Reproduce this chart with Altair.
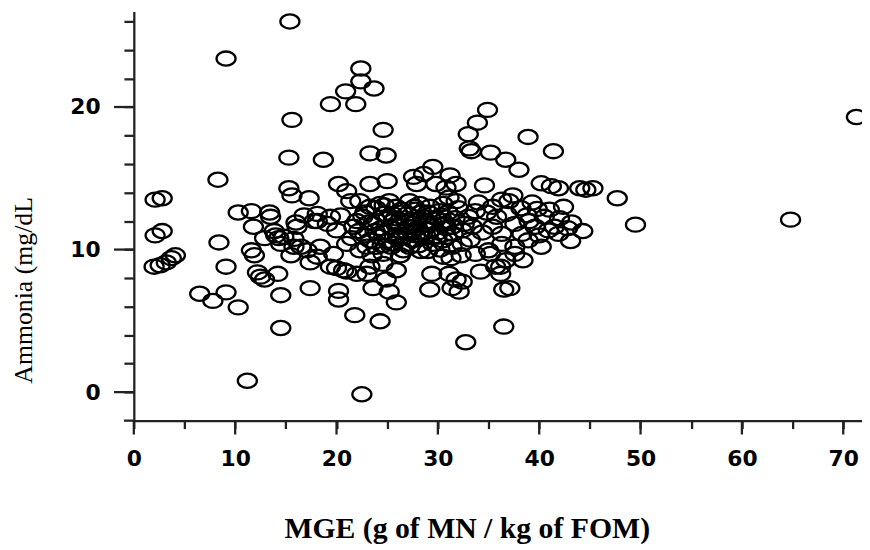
import altair as alt
import pandas as pd

# MGE (g of MN / kg of FOM) and ammonia (mg/dL)
mge = [
    15.4, 9.1, 22.4, 22.4, 23.7, 20.9, 19.4, 21.9, 15.6, 24.6,
    34.9, 33.9, 33.0, 33.1, 33.3, 35.2, 36.7, 38.0, 38.9, 41.4,
    71.3, 15.3, 18.7, 23.3, 24.9, 8.3,
    2.1, 2.8, 2.1, 2.8, 2.0, 2.6, 3.2, 3.7, 4.1, 8.4,
    9.1, 6.5, 7.8, 9.1, 10.3, 11.2, 10.3, 11.6, 13.4, 13.5,
    11.8, 12.9, 14.0, 14.3, 11.6, 11.9, 12.2, 12.5, 12.9, 14.2,
    14.5, 14.5, 22.5, 15.3, 15.6, 17.3, 20.2, 21.0, 21.4, 23.3,
    25.0, 27.6, 28.6, 29.5, 31.2, 31.8, 34.6, 27.9, 29.8, 30.8,
    40.2, 41.2, 41.9, 44.0, 44.6, 45.3, 37.4, 36.3, 42.4, 39.8,
    38.8, 43.2, 43.1, 44.3, 47.7, 49.5, 64.8, 41.5, 36.5, 32.75,
    36.5, 37.1, 32.1, 31.4, 31.8, 32.4, 29.2, 29.4, 34.2, 36.2,
    36.2, 38.4, 35.2, 37.6, 30.5, 31.3, 32.3, 17.4, 20.2, 20.2,
    21.8, 24.3, 23.6, 25.2, 25.9, 24.9, 15.5, 17.4, 20.0, 21.0,
    22.0, 23.0, 16.0, 18.1, 19.4, 20.4, 22.3, 23.3, 24.3, 25.2,
    25.9, 27.2, 28.2, 29.2, 30.5, 31.1, 31.8, 33.7, 35.4, 37.0,
    14.8, 16.1, 17.8, 19.1, 20.0, 21.7, 22.6, 23.6, 24.6, 25.6,
    26.2, 27.5, 28.5, 29.5, 30.5, 31.4, 32.4, 33.4, 34.4, 35.4,
    36.3, 37.6, 38.3, 39.6, 40.9, 41.9, 14.5, 15.8, 17.1, 18.4,
    19.7, 21.0, 22.3, 23.3, 23.9, 24.6, 25.6, 26.6, 27.5, 28.5,
    29.5, 30.5, 31.4, 32.4, 33.7, 35.0, 36.3, 37.6, 38.9, 40.2,
    19.4, 20.7, 23.3, 24.6, 25.9, 31.1, 35.7, 36.7, 15.8, 16.5,
    18.1, 16.8, 18.1, 13.85,
    22.8, 23.8, 24.2, 24.8, 25.3, 25.0, 26.0, 26.8, 27.0, 27.8,
    28.0, 28.8, 29.0, 29.8, 30.0, 30.8, 31.0, 22.0, 22.8, 23.0,
    24.0, 25.5, 26.5, 27.2, 28.3, 29.0, 30.2, 26.2, 24.5, 23.5,
    21.5, 22.2, 25.8, 28.9, 27.8, 26.8,
    39.0, 40.5, 41.0, 42.0, 38.2, 40.0, 42.8, 39.3, 36.8, 35.8,
    34.8, 33.0, 34.0,
    23.2, 24.4, 25.1, 25.7, 26.4, 27.1, 27.9, 28.6, 29.3, 30.1,
    30.9, 31.7, 32.6, 23.9, 25.4, 26.9, 28.4, 29.9, 31.5, 24.7,
    26.3, 27.7, 29.1, 30.6, 32.0, 33.2, 25.9, 28.1, 30.3, 27.4,
]
ammonia = [
    26.0, 23.4, 22.7, 21.8, 21.3, 21.1, 20.2, 20.2, 19.1, 18.4,
    19.8, 18.9, 18.1, 17.1, 16.9, 16.8, 16.3, 15.6, 17.9, 16.9,
    19.3, 16.45, 16.3, 16.75, 16.6, 14.9,
    13.5, 13.6, 11.0, 11.3, 8.8, 8.9, 9.1, 9.4, 9.6, 10.5,
    8.8, 6.9, 6.4, 7.0, 5.95, 0.8, 12.6, 12.7, 12.6, 12.3,
    11.6, 10.8, 11.0, 10.8, 9.95, 9.6, 8.4, 8.1, 7.9, 8.3,
    6.8, 4.5, -0.15, 14.3, 13.8, 13.6, 14.6, 14.1, 13.4, 14.6,
    14.8, 15.1, 15.3, 15.8, 15.2, 14.6, 14.5, 14.6, 14.6, 14.35,
    14.65, 14.45, 14.3, 14.3, 14.2, 14.3, 13.8, 13.5, 13.0, 12.85,
    12.4, 11.9, 10.6, 11.3, 13.6, 11.75, 12.1, 11.6, 4.6, 3.5,
    7.2, 7.3, 7.05, 7.3, 7.9, 7.75, 7.2, 8.3, 8.45, 8.8,
    8.3, 9.25, 9.7, 9.7, 9.5, 9.4, 9.6, 7.3, 7.1, 6.5,
    5.4, 4.97, 7.3, 7.05, 6.3, 7.9, 9.6, 9.1, 8.7, 8.45,
    8.3, 8.3, 11.9, 12.5, 12.3, 12.4, 13.4, 13.0, 13.2, 13.4,
    13.0, 13.4, 13.2, 13.0, 13.2, 13.65, 13.4, 12.7, 13.0, 13.4,
    10.9, 11.6, 12.0, 11.8, 11.35, 11.6, 12.3, 11.8, 12.5, 12.0,
    11.6, 11.8, 12.3, 11.8, 12.0, 11.6, 11.35, 11.6, 11.2, 11.6,
    11.1, 11.8, 11.1, 11.6, 11.35, 11.1, 10.4, 10.2, 9.95, 10.2,
    9.7, 10.4, 9.95, 10.65, 10.2, 9.7, 10.4, 9.95, 10.65, 11.1,
    10.4, 10.65, 10.2, 10.4, 9.7, 9.95, 10.4, 10.2, 10.65, 10.2,
    8.8, 8.55, 8.8, 9.0, 8.55, 8.3, 8.8, 9.25, 10.75, 10.2,
    9.5, 12.4, 12.0, 11.3,
    11.0, 11.3, 10.9, 11.2, 11.6, 10.6, 11.0, 11.3, 12.5, 12.8,
    11.5, 11.0, 12.6, 12.2, 11.2, 11.5, 12.6, 12.0, 12.6, 10.2,
    12.0, 12.5, 12.6, 10.2, 9.9, 9.9, 10.0, 10.8, 10.3, 9.6,
    10.8, 11.3, 12.2, 12.0, 11.0, 12.0,
    12.0, 12.3, 12.8, 12.2, 12.9, 11.0, 11.5, 13.3, 12.5, 12.3,
    12.6, 12.3, 13.3,
    11.9, 11.5, 12.3, 10.9, 12.8, 11.6, 12.1, 10.8, 11.4, 12.7,
    10.9, 12.2, 11.8, 12.9, 10.2, 10.4, 12.6, 10.9, 11.1, 13.1,
    9.6, 13.0, 11.9, 11.8, 12.9, 10.7, 11.7, 10.3, 12.4, 11.3,
]

x_tick_values = [0, 5, 10, 15, 20, 25, 30, 35, 40, 45, 50, 55, 60, 65, 70]
x_major_values = [0, 10, 20, 30, 40, 50, 60, 70]
y_tick_values = [0, 2, 4, 6, 8, 10, 12, 14, 16, 18, 20, 22, 24, 26]
y_major_values = [0, 10, 20]

AX = "#222222"
x_scale = alt.Scale(domain=[0, 71.85], nice=False, zero=False)
y_scale = alt.Scale(domain=[-2, 26.7], nice=False, zero=False)

x_axis = alt.Axis(
    values=x_tick_values,
    labelExpr="datum.value % 10 === 0 ? datum.label : ''",
    grid=False,
    domainColor=AX,
    domainWidth=2.3,
    tickColor=AX,
    tickWidth=2.3,
    tickSize=8,
    labelFont="DejaVu Sans",
    labelFontWeight="bold",
    labelFontSize=22,
    labelColor="black",
    labelPadding=20,
    labelOverlap=False,
    labelFlush=False,
    title="MGE (g of MN / kg of FOM)",
    titleFont="Liberation Serif",
    titleFontWeight="bold",
    titleFontSize=30,
    titleColor="black",
    titleX=336,
    titleY=118,
    titleAlign="center",
    titleBaseline="alphabetic",
)
y_axis = alt.Axis(
    values=y_tick_values,
    labelExpr="datum.value % 10 === 0 ? datum.label : ''",
    grid=False,
    domainColor=AX,
    domainWidth=2.3,
    tickColor=AX,
    tickWidth=2.3,
    tickSize=10,
    labelFont="DejaVu Sans",
    labelFontWeight="bold",
    labelFontSize=22,
    labelColor="black",
    labelPadding=24,
    labelOverlap=False,
    labelFlush=False,
    title="Ammonia (mg/dL",
    titleFont="Liberation Serif",
    titleFontWeight="normal",
    titleFontSize=26,
    titleColor="black",
    titleAngle=270,
    titleX=-103,
    titleY=281,
    titleAlign="center",
    titleBaseline="alphabetic",
)

df = pd.DataFrame({"MGE": mge, "Ammonia": ammonia})

ellipse = "M-1,0A1,0.74,0,1,1,1,0A1,0.74,0,1,1,-1,0Z"

points = (
    alt.Chart(df)
    .mark_point(
        shape=ellipse,
        filled=False,
        stroke="black",
        strokeWidth=2.3,
        size=370,
        opacity=1,
    )
    .encode(
        x=alt.X("MGE:Q", scale=x_scale, axis=x_axis),
        y=alt.Y("Ammonia:Q", scale=y_scale, axis=y_axis),
    )
)

# longer ticks at the labelled (major) values
x_major = (
    alt.Chart(pd.DataFrame({"MGE": x_major_values}))
    .mark_rule(color=AX, strokeWidth=2.3)
    .encode(
        x=alt.X("MGE:Q", scale=x_scale, axis=x_axis),
        y=alt.value(413),
        y2=alt.value(427),
    )
)
y_major = (
    alt.Chart(pd.DataFrame({"Ammonia": y_major_values}))
    .mark_rule(color=AX, strokeWidth=2.3)
    .encode(
        y=alt.Y("Ammonia:Q", scale=y_scale, axis=y_axis),
        x=alt.value(0),
        x2=alt.value(-20),
    )
)
# x axis line extends a little to the left of the y axis
axis_stub = (
    alt.Chart(pd.DataFrame({"v": [0]}))
    .mark_rule(color=AX, strokeWidth=2.3)
    .encode(x=alt.value(-10), x2=alt.value(0), y=alt.value(413))
)

chart = (
    alt.layer(points, x_major, y_major, axis_stub)
    .properties(
        width=735,
        height=413,
        autosize=alt.AutoSizeParams(type="none"),
        padding={"left": 127, "top": 1, "right": 0, "bottom": 125},
        background="white",
    )
    .configure_view(stroke=None)
)

chart.save("out.html", embed_options={"renderer": "svg", "actions": False})
